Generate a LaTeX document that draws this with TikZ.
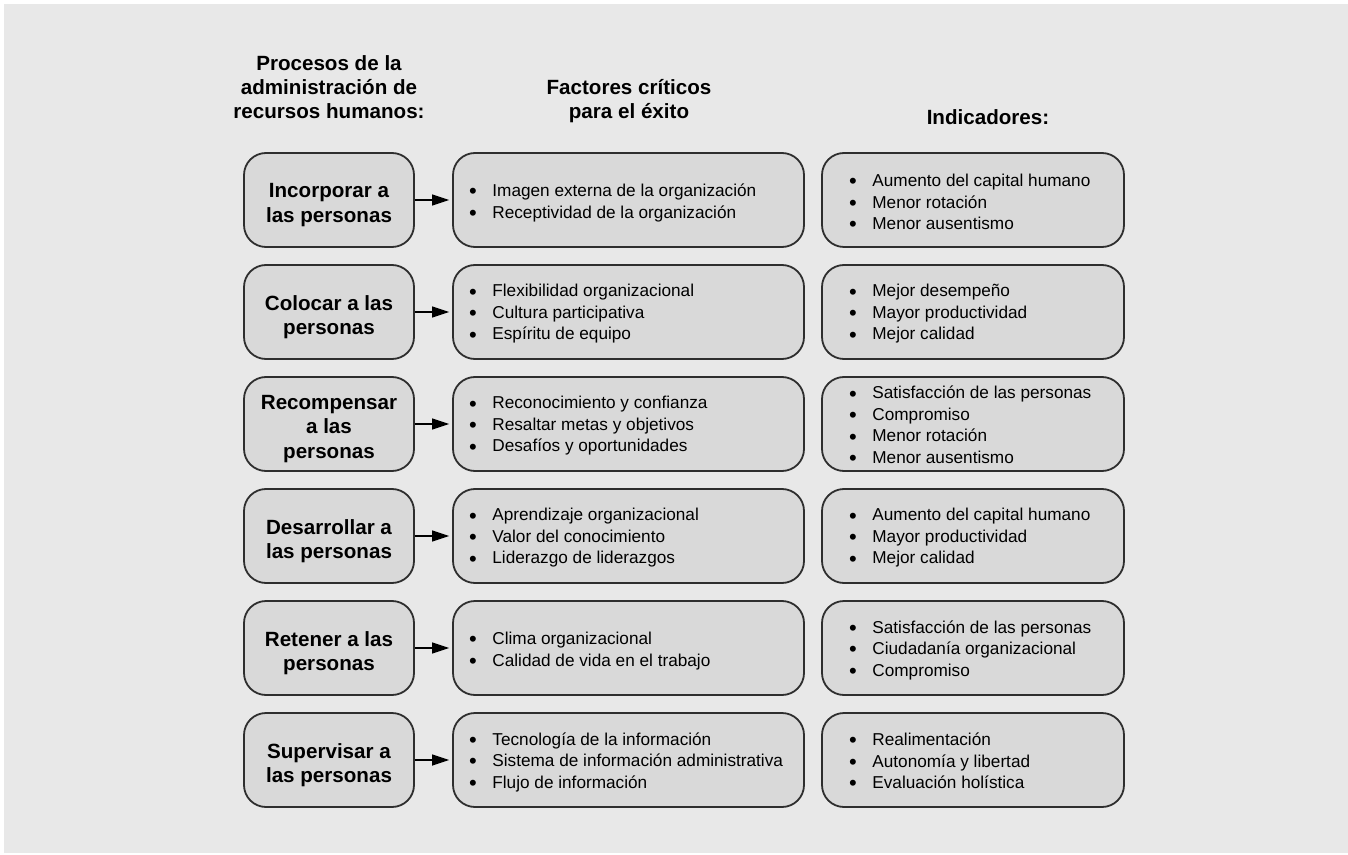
\documentclass[tikz,border=0pt]{standalone}
\usepackage{fontspec}
\setmainfont{Liberation Sans}
\usetikzlibrary{arrows.meta}
\definecolor{bg}{HTML}{E8E8E8}
\definecolor{boxfill}{HTML}{D9D9D9}
\definecolor{boxline}{HTML}{2E2E2E}
\newcommand\blt{\makebox[11pt][l]{\hspace*{-0.6pt}\raisebox{-1.1pt}{\fontsize{11}{10}\selectfont •}}}
\begin{document}
\begin{tikzpicture}[x=0.5pt,y=-0.5pt,
  basebox/.style={draw=boxline, line width=0.9pt, fill=boxfill, rounded corners=11pt, inner sep=0pt},
  procbox/.style={basebox, minimum width=85pt, minimum height=47pt},
  proctext/.style={inner sep=0pt, align=center, font=\bfseries\fontsize{10.3}{12.2}\selectfont},
  factbox/.style={basebox, minimum width=175.5pt, minimum height=47pt},
  indbox/.style={basebox, minimum width=151pt, minimum height=47pt},
  lst/.style={anchor=west, inner sep=0pt, align=left, font=\fontsize{8.6}{10.75}\selectfont},
  hdr/.style={inner sep=0pt, align=center, font=\bfseries\fontsize{10.3}{12}\selectfont},
  conn/.style={-{Triangle[length=8.5pt,width=5.5pt]}, line width=0.75pt, shorten >=1.5pt}
]
\useasboundingbox (0,0) rectangle (1348,855);
\fill[bg] (4,4) rectangle (1348,853);

\node[hdr] (h1) at (329,87) {Procesos de la\\administración de\\recursos humanos:};
\node[hdr] (h2) at (629,101) {Factores críticos\\para el éxito};
\node[hdr, anchor=base] (h3) at (988,125) {Indicadores:};

% Row 1
\node[procbox] (p1) at (329,200) {};
\node[proctext] (pt1) at (329,205) {Incorporar a\\las personas};
\node[factbox] (f1) at (628.5,200) {};
\node[lst] (fl1) at (470,203) {\blt Imagen externa de la organización\\\blt Receptividad de la organización};
\node[indbox] (i1) at (973,200) {};
\node[lst] (il1) at (850,203) {\blt Aumento del capital humano\\\blt Menor rotación\\\blt Menor ausentismo};
\draw[conn] (p1) -- (f1);

% Row 2
\node[procbox] (p2) at (329,312) {};
\node[proctext] (pt2) at (329,317) {Colocar a las\\personas};
\node[factbox] (f2) at (628.5,312) {};
\node[lst] (fl2) at (470,314) {\blt Flexibilidad organizacional\\\blt Cultura participativa\\\blt Espíritu de equipo};
\node[indbox] (i2) at (973,312) {};
\node[lst] (il2) at (850,314) {\blt Mejor desempeño\\\blt Mayor productividad\\\blt Mejor calidad};
\draw[conn] (p2) -- (f2);

% Row 3
\node[procbox] (p3) at (329,424) {};
\node[proctext] (pt3) at (329,429) {Recompensar\\a las\\personas};
\node[factbox] (f3) at (628.5,424) {};
\node[lst] (fl3) at (470,426) {\blt Reconocimiento y confianza\\\blt Resaltar metas y objetivos\\\blt Desafíos y oportunidades};
\node[indbox] (i3) at (973,424) {};
\node[lst] (il3) at (850,426) {\blt Satisfacción de las personas\\\blt Compromiso\\\blt Menor rotación\\\blt Menor ausentismo};
\draw[conn] (p3) -- (f3);

% Row 4
\node[procbox] (p4) at (329,536) {};
\node[proctext] (pt4) at (329,541) {Desarrollar a\\las personas};
\node[factbox] (f4) at (628.5,536) {};
\node[lst] (fl4) at (470,538) {\blt Aprendizaje organizacional\\\blt Valor del conocimiento\\\blt Liderazgo de liderazgos};
\node[indbox] (i4) at (973,536) {};
\node[lst] (il4) at (850,538) {\blt Aumento del capital humano\\\blt Mayor productividad\\\blt Mejor calidad};
\draw[conn] (p4) -- (f4);

% Row 5
\node[procbox] (p5) at (329,648) {};
\node[proctext] (pt5) at (329,653) {Retener a las\\personas};
\node[factbox] (f5) at (628.5,648) {};
\node[lst] (fl5) at (470,651) {\blt Clima organizacional\\\blt Calidad de vida en el trabajo};
\node[indbox] (i5) at (973,648) {};
\node[lst] (il5) at (850,650) {\blt Satisfacción de las personas\\\blt Ciudadanía organizacional\\\blt Compromiso};
\draw[conn] (p5) -- (f5);

% Row 6
\node[procbox] (p6) at (329,760) {};
\node[proctext] (pt6) at (329,765) {Supervisar a\\las personas};
\node[factbox] (f6) at (628.5,760) {};
\node[lst] (fl6) at (470,762) {\blt Tecnología de la información\\\blt Sistema de información administrativa\\\blt Flujo de información};
\node[indbox] (i6) at (973,760) {};
\node[lst] (il6) at (850,762) {\blt Realimentación\\\blt Autonomía y libertad\\\blt Evaluación holística};
\draw[conn] (p6) -- (f6);
\end{tikzpicture}
\end{document}
